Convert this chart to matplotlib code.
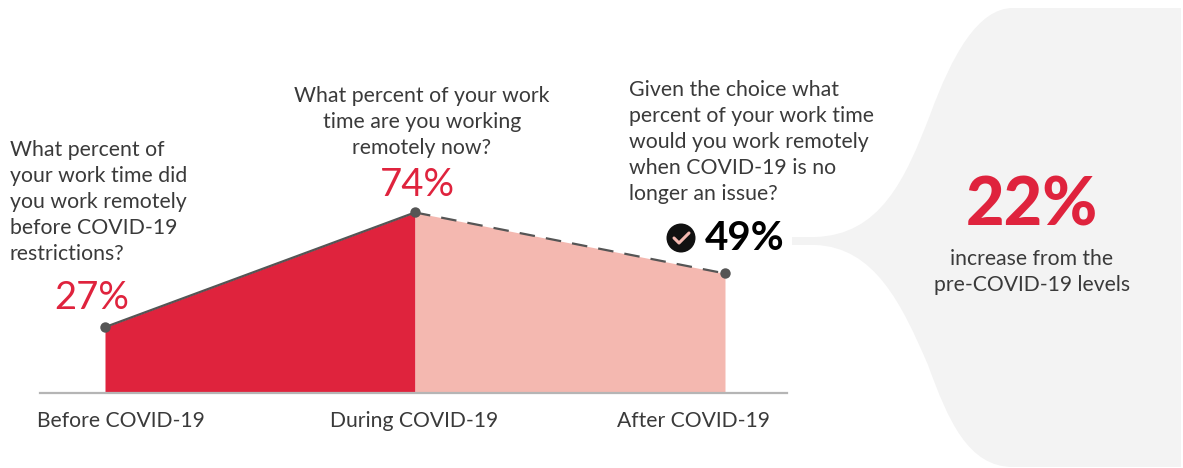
import matplotlib
matplotlib.use("Agg")
import matplotlib.pyplot as plt
from matplotlib.patches import PathPatch, Circle
from matplotlib.path import Path

plt.rcParams['font.family'] = ['Lato', 'DejaVu Sans']

periods = ["Before COVID-19", "During COVID-19", "After COVID-19"]
values = [27, 74, 49]
value_labels = ["27%", "74%", "49%"]
questions = [
    "What percent of\nyour work time did\nyou work remotely\nbefore COVID-19\nrestrictions?",
    "What percent of your work\ntime are you working\nremotely now?",
    "Given the choice what\npercent of your work time\nwould you work remotely\nwhen COVID-19 is no\nlonger an issue?",
]
callout_value = "22%"
callout_text = "increase from the\npre-COVID-19 levels"

RED = '#df233d'
PINK = '#f4b8b0'
DARK = '#555555'
TEXT = '#3a3a3a'

W, H = 1183, 468
fig = plt.figure(figsize=(W / 100, H / 100), dpi=100)

# pixel overlay for the layout parts (top-left origin)
px = fig.add_axes([0, 0, 1, 1])
px.set_xlim(0, W)
px.set_ylim(H, 0)
px.axis('off')

# grey callout shape behind everything
verts = [
    (1181, 8), (1013, 8),
    (978, 8), (952, 55), (930, 115),
    (905, 180), (880, 235), (815, 237),
    (792, 237), (792, 245),
    (815, 245),
    (875, 247), (902, 305), (928, 365),
    (948, 420), (968, 467), (1013, 467),
    (1181, 467), (1181, 8),
]
codes = [Path.MOVETO, Path.LINETO,
         Path.CURVE4, Path.CURVE4, Path.CURVE4,
         Path.CURVE4, Path.CURVE4, Path.CURVE4,
         Path.LINETO, Path.LINETO, Path.LINETO,
         Path.CURVE4, Path.CURVE4, Path.CURVE4,
         Path.CURVE4, Path.CURVE4, Path.CURVE4,
         Path.LINETO, Path.CLOSEPOLY]
px.add_patch(PathPatch(Path(verts, codes), fc='#f3f3f3', ec='none'))

# data axes: x=0 at 105px, x=1 at 415px, y=0 at 393px, 2.44 px per percent
ax = fig.add_axes([0, 0, 1, 1])
ax.patch.set_alpha(0)
ax.set_xlim(-105 / 310, (W - 105) / 310)
ax.set_ylim(-(H - 393) / 2.44, 393 / 2.44)
ax.axis('off')

x = [0, 1, 2]
ax.fill_between(x[:2], values[:2], 0, color=RED, lw=0)
ax.fill_between(x[1:], values[1:], 0, color=PINK, lw=0)
ax.plot(x[:2], values[:2], color=DARK, lw=1.6)
ax.plot(x[1:], values[1:], color=DARK, lw=1.6, dashes=(7, 5))
ax.plot(x, values, 'o', color=DARK, ms=7.5, mew=0)
ax.plot([-65 / 310, 682 / 310], [0, 0], color='#b5b5b5', lw=1.6)

# period labels
for cx, label in zip([121, 414, 694], periods):
    px.text(cx, 421, label, ha='center', va='center', fontsize=15.2, color=TEXT)

# questions
for (qx, qy), q in zip([(10, 202), (422, 122), (629, 142)], questions):
    ha = 'center' if qx == 422 else 'left'
    px.text(qx, qy, q, ha=ha, va='center', multialignment='center' if qx == 422 else 'left',
            fontsize=15.3, color=TEXT, linespacing=1.39)

# value labels
px.text(92, 298, value_labels[0], ha='center', va='center', fontsize=27.5, color=RED)
px.text(417, 185, value_labels[1], ha='center', va='center', fontsize=27.5, color=RED)
px.text(745, 238, value_labels[2], ha='center', va='center', fontsize=29, color='black', fontweight='bold')

# check badge
px.add_patch(Circle((681, 238), 14.5, fc='#111111', ec='none'))
px.plot([674, 679, 689], [238, 243, 233], color=PINK, lw=2.2, solid_capstyle='round', solid_joinstyle='round')

# callout
px.text(1032, 206, callout_value, ha='center', va='center', fontsize=48, color=RED, fontweight='black')
px.text(1032, 272, callout_text, ha='center', va='center', multialignment='center',
        fontsize=15.2, color=TEXT, linespacing=1.39)

fig.savefig('out.png', dpi=100)
